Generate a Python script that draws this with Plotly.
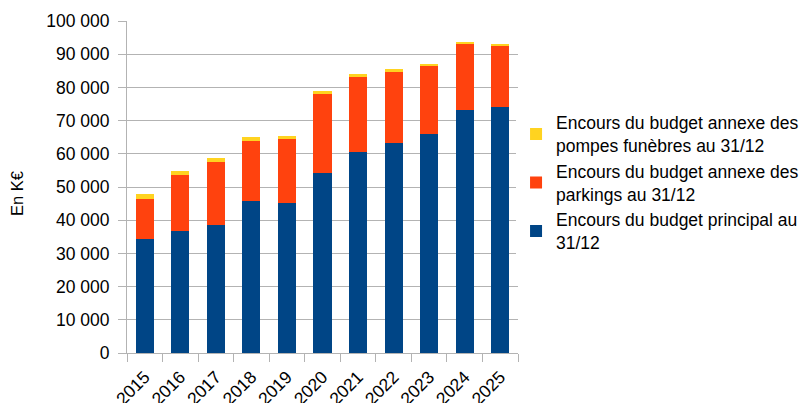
import plotly.graph_objects as go

years = ["2015", "2016", "2017", "2018", "2019", "2020", "2021", "2022", "2023", "2024", "2025"]
principal = [34200, 36800, 38600, 45900, 45300, 54300, 60600, 63300, 66100, 73300, 74200]
parkings = [12300, 16900, 19000, 18000, 19200, 23800, 22600, 21400, 20400, 19900, 18400]
pompes = [1300, 1200, 1200, 1300, 1000, 900, 900, 900, 600, 600, 600]

names = [
    "Encours du budget principal au<br>31/12",
    "Encours du budget annexe des<br>parkings au 31/12",
    "Encours du budget annexe des<br>pompes funèbres au 31/12",
]
colors = ["#004586", "#ff420e", "#ffd320"]
ranks = [3, 2, 1]

FONT = "Liberation Sans, Arial, sans-serif"

fig = go.Figure()
for vals, name, col, rk in zip([principal, parkings, pompes], names, colors, ranks):
    fig.add_trace(go.Bar(x=years, y=vals, name=name, marker_color=col,
                         marker_line_width=0, legendrank=rk))

fig.update_layout(
    barmode="stack",
    bargap=0.49,
    width=810, height=403,
    margin=dict(l=119, r=300, t=13, b=58, autoexpand=False),
    paper_bgcolor="white", plot_bgcolor="white",
    separators=", ",
    font=dict(family=FONT, size=17.5, color="#000000"),
    legend=dict(x=0.995, y=0.748, xanchor="left", yanchor="top",
                traceorder="normal", tracegroupgap=0,
                font=dict(size=17.5), itemwidth=30),
    xaxis=dict(type="category", tickangle=-45, showline=True, linecolor="#b3b3b3",
               ticks="outside", ticklen=8, tickcolor="#b3b3b3", tickson="boundaries",
               ticklabelstandoff=6, automargin=False),
    yaxis=dict(range=[0, 100000], dtick=10000, tickformat=",d", showgrid=True,
               gridcolor="#b3b3b3", showline=True, linecolor="#b3b3b3",
               ticks="outside", ticklen=8, tickcolor="#b3b3b3", zeroline=False,
               ticklabelstandoff=5, automargin=False),
    annotations=[dict(text="En K€", xref="paper", yref="paper", x=-0.281, y=0.479,
                      textangle=-90, showarrow=False, font=dict(size=16.5),
                      xanchor="center", yanchor="middle")],
)

fig.write_html("out.html")
